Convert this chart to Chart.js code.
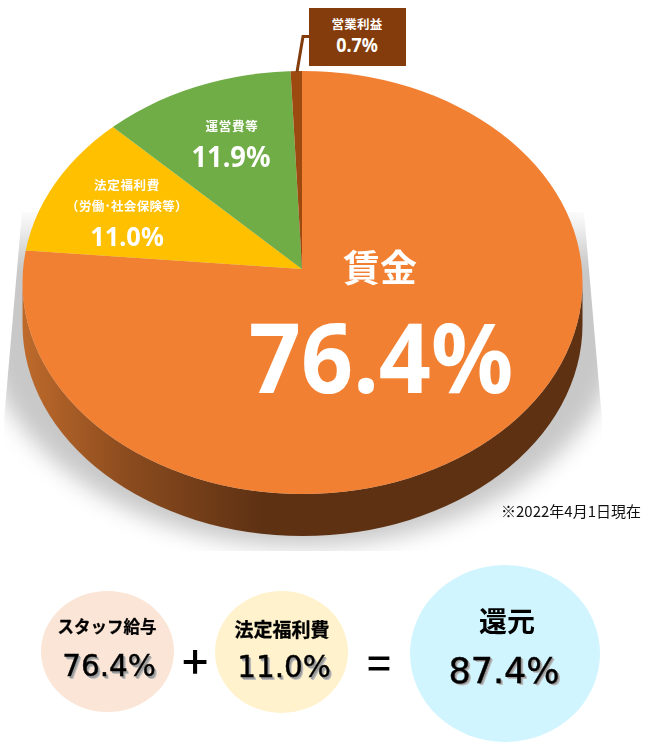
<!DOCTYPE html>
<html lang="ja"><head><meta charset="utf-8">
<style>
html,body{margin:0;padding:0;background:#fff;width:646px;height:750px;overflow:hidden}
#wrap{position:relative;width:646px;height:750px;font-family:"Noto Sans CJK JP","Noto Sans",sans-serif}
canvas{position:absolute;left:0;top:0}
.t{position:absolute;white-space:nowrap;transform:translate(-50%,-50%);font-weight:700;line-height:1;color:#fff}
.n{font-family:"Noto Sans",sans-serif;transform:translate(-50%,-50%) scaleX(.94)}
.c{position:absolute;border-radius:50%}
.k{color:#000}
.s{font-family:"DejaVu Sans",sans-serif;font-weight:400;color:#000;-webkit-text-stroke:.4px #000;text-shadow:1.5px 1.5px 0 #999,2.5px 2.5px 0 #bbb}
.box{position:absolute;left:309px;top:8px;width:97px;height:58px;background:#843C0C}
</style></head><body>
<div id="wrap">
<canvas id="c" width="646" height="750"></canvas>
<div class="box"></div>
<div class="t" id="l0" style="left:380px;top:266px;font-size:37px"></div>
<div class="t n" id="p0" style="left:381px;top:355px;font-size:97px"></div>
<div class="t" id="l1" style="left:127px;top:185px;font-size:12.5px;letter-spacing:.7px"></div>
<div class="t" id="l1b" style="left:127px;top:206px;font-size:12.5px;letter-spacing:.3px"></div>
<div class="t n" id="p1" style="left:127px;top:235px;font-size:27px"></div>
<div class="t" id="l2" style="left:232px;top:126px;font-size:12.5px;letter-spacing:.7px"></div>
<div class="t n" id="p2" style="left:231px;top:155px;font-size:29px"></div>
<div class="t" id="l3" style="left:357px;top:24px;font-size:12.5px;letter-spacing:.3px"></div>
<div class="t n" id="p3" style="left:357px;top:45px;font-size:19px"></div>
<div class="t" id="note" style="left:571px;top:510px;font-size:15px;font-weight:400;color:#111;font-family:'Noto Sans CJK JP',sans-serif"></div>

<div class="c" style="left:41px;top:591px;width:133px;height:121px;background:#FBE5D6"></div>
<div class="c" style="left:215px;top:591px;width:133px;height:122px;background:#FFF2CC"></div>
<div class="c" style="left:410px;top:565px;width:190px;height:177px;background:#D0F5FF"></div>
<div class="t k" id="b0" style="left:107px;top:626px;font-size:16.5px;-webkit-text-stroke:.3px #000"></div>
<div class="t s" id="v0" style="left:109px;top:667px;font-size:29.5px"></div>
<div class="t k" style="left:195px;top:659px;font-size:46px;font-weight:500">+</div>
<div class="t k" id="b1" style="left:282px;top:628px;font-size:19px;-webkit-text-stroke:.3px #000"></div>
<div class="t s" id="v1" style="left:284px;top:668px;font-size:29.5px"></div>
<div class="t k" style="left:379px;top:661px;font-size:42px;font-weight:500">=</div>
<div class="t k" id="b2" style="left:507px;top:620px;font-size:28px"></div>
<div class="t s" id="v2" style="left:504px;top:671px;font-size:35px"></div>
</div>
<script src="https://cdn.jsdelivr.net/npm/chart.js@4/dist/chart.umd.min.js"></script>
<script>
const categories = ["賃金", "法定福利費", "運営費等", "営業利益"];
const subLabel = "（労働･社会保険等）";
const seriesValues = [76.4, 11.0, 11.9, 0.7];
const sliceColors = ["#F28033", "#FFC000", "#70AD47", "#9C4A10"];
const sumLabels = ["スタッフ給与", "法定福利費", "還元"];
const sumValues = [76.4, 11.0, 87.4];
const noteText = "※2022年4月1日現在";

const pct = v => v.toFixed(1) + "%";
const $ = id => document.getElementById(id);
categories.forEach((c, i) => { $("l" + i).textContent = c; $("p" + i).textContent = pct(seriesValues[i]); });
$("l1b").textContent = subLabel;
$("note").textContent = noteText;
sumLabels.forEach((c, i) => { $("b" + i).textContent = c; $("v" + i).textContent = pct(sumValues[i]); });

// perspective view: the apex sits above the centre of the visible ellipse
const view = { ax: 302, ay: 269, ex: 302.5, ey: 282.5, rx: 280, ry: 211.5, upper: 0.76, lower: 1, depth: 42 };

const tilt = {
  id: "tilt",
  beforeDatasetDraw(chart, args) {
    const ctx = chart.ctx, arcs = chart.getDatasetMeta(args.index).data, a0 = arcs[0];
    const { ax, ay, ex, ey, rx, ry, depth } = view;
    const wall = () => {
      ctx.beginPath();
      ctx.ellipse(ex, ey, rx, ry, 0, 0, Math.PI);
      ctx.lineTo(ex - rx, ey + depth);
      ctx.ellipse(ex, ey + depth, rx, ry, 0, Math.PI, 0, true);
      ctx.closePath();
    };
    // ground shadow: soft below, hard slanted sides, cropped at the bottom
    ctx.save();
    ctx.beginPath();
    ctx.moveTo(22, 212); ctx.lineTo(4, 420); ctx.lineTo(4, 551); ctx.lineTo(602, 551); ctx.lineTo(602, 420); ctx.lineTo(584, 212);
    ctx.closePath(); ctx.clip();
    const sg = ctx.createLinearGradient(0, 212, 0, 265);
    sg.addColorStop(0, "rgba(200,200,200,0)"); sg.addColorStop(1, "rgba(200,200,200,1)");
    ctx.filter = "blur(11px)";
    ctx.fillStyle = sg;
    ctx.beginPath(); ctx.ellipse(ex, ey + 29, 322, 235, 0, 0, Math.PI * 2); ctx.fill();
    ctx.restore();
    // side wall
    const g = ctx.createLinearGradient(ex - rx, 0, ex - 40, 0);
    g.addColorStop(0, "#BE6A2B"); g.addColorStop(0.45, "#8A4B1E"); g.addColorStop(1, "#5E3113");
    ctx.save(); ctx.fillStyle = g; wall(); ctx.fill(); ctx.restore();
    // top face: slices seen through the ellipse, upper and lower half about the apex
    [[view.upper, 0, ay + 0.5], [view.lower, ay, 750]].forEach(([sy, top, bottom]) => {
      ctx.save();
      ctx.beginPath(); ctx.ellipse(ex, ey, rx, ry, 0, 0, Math.PI * 2); ctx.clip();
      ctx.beginPath(); ctx.rect(0, top, 646, bottom - top); ctx.clip();
      ctx.translate(ax, ay); ctx.scale(1, sy); ctx.translate(-a0.x, -a0.y);
      arcs.forEach(a => a.draw(ctx));
      ctx.restore();
    });
    // callout leader
    ctx.save();
    ctx.strokeStyle = "#843C0C"; ctx.lineWidth = 3;
    ctx.beginPath(); ctx.moveTo(297, 72); ctx.lineTo(303, 36.5); ctx.lineTo(310, 36.5); ctx.stroke();
    ctx.restore();
    return false;
  }
};

new Chart($("c"), {
  type: "pie",
  data: { labels: categories, datasets: [{ data: seriesValues, backgroundColor: sliceColors, borderWidth: 0, radius: 320 }] },
  options: {
    responsive: false, animation: false, events: [],
    layout: { padding: 0 },
    plugins: { legend: { display: false }, tooltip: { enabled: false }, title: { display: false } }
  },
  plugins: [tilt]
});
</script>
</body></html>
